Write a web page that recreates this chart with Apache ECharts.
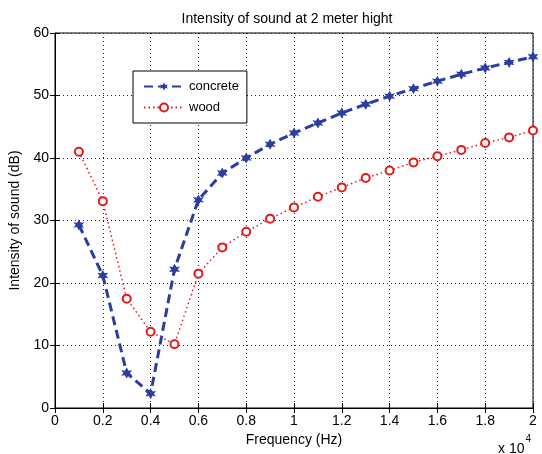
<!DOCTYPE html>
<html>
<head>
    <meta charset="utf-8">
    <script src="https://cdn.jsdelivr.net/npm/echarts@6/dist/echarts.min.js"></script>
</head>
<body style="margin:0;background:#fff;">
    <div id="main" style="width:542px;height:454px;"></div>
    <script type="text/javascript">
        // frequency in units of 10^4 Hz
        var freq = [0.1, 0.2, 0.3, 0.4, 0.5, 0.6, 0.7, 0.8, 0.9, 1.0,
                    1.1, 1.2, 1.3, 1.4, 1.5, 1.6, 1.7, 1.8, 1.9, 2.0];
        var concrete = [29.3, 21.2, 5.6, 2.3, 22.2, 33.3, 37.6, 40.0, 42.2, 44.0,
                        45.6, 47.2, 48.6, 49.9, 51.1, 52.3, 53.4, 54.4, 55.3, 56.2];
        var wood = [41.0, 33.1, 17.5, 12.2, 10.2, 21.5, 25.7, 28.2, 30.3, 32.1,
                    33.8, 35.3, 36.8, 38.0, 39.3, 40.3, 41.3, 42.4, 43.3, 44.4];

        function pairs(xs, ys) {
            var out = [];
            for (var i = 0; i < xs.length; i++) out.push([xs[i], ys[i]]);
            return out;
        }

        var blue = '#2b3d9e';
        var red = '#e01b1f';
        var font = 'Liberation Sans';
        // fat asterisk-like marker
        var star = 'path://M0,-10 L3,-4 L8.7,-5 L5,0 L8.7,5 L3,4 L0,10 L-3,4 L-8.7,5 L-5,0 L-8.7,-5 L-3,-4 Z';

        var myChart = echarts.init(document.getElementById('main'));
        var option = {
            backgroundColor: '#fff',
            animation: false,
            textStyle: {fontFamily: font},
            title: {
                text: 'Intensity of sound at 2 meter hight',
                left: 282, top: 7, textAlign: 'center',
                textStyle: {fontSize: 14, fontWeight: 'normal', color: '#000', fontFamily: font}
            },
            legend: {
                left: 133, top: 71, orient: 'vertical',
                data: ['concrete', 'wood'],
                backgroundColor: '#fff',
                borderColor: '#000', borderWidth: 1,
                padding: [9, 8, 9, 10],
                itemGap: 8, itemWidth: 40, itemHeight: 10,
                textStyle: {fontSize: 13, color: '#000', fontFamily: font}
            },
            grid: {left: 55, right: 9, top: 33, bottom: 46, show: true, borderColor: '#000', borderWidth: 1},
            xAxis: [{
                type: 'value', min: 0, max: 2, interval: 0.2,
                name: 'Frequency (Hz)', nameLocation: 'middle', nameGap: 25,
                nameTextStyle: {fontSize: 14, color: '#000', fontFamily: font},
                axisLine: {lineStyle: {color: '#000'}},
                axisTick: {inside: true, length: 5, lineStyle: {color: '#000'}},
                axisLabel: {color: '#000', fontSize: 14, margin: 6,
                    formatter: function (v) { return String(Math.round(v * 10) / 10); }},
                splitLine: {show: true, lineStyle: {color: '#222', type: [1, 3], width: 1}}
            }, {
                type: 'value', min: 0, max: 2, interval: 0.2, position: 'top',
                axisLine: {show: false},
                axisTick: {inside: true, length: 5, lineStyle: {color: '#000'}},
                axisLabel: {show: false}, splitLine: {show: false}
            }],
            yAxis: [{
                type: 'value', min: 0, max: 60, interval: 10,
                name: 'Intensity of sound (dB)', nameLocation: 'middle', nameGap: 27,
                nameTextStyle: {fontSize: 14, color: '#000', fontFamily: font},
                axisLine: {show: true, lineStyle: {color: '#000'}},
                axisTick: {show: true, inside: true, length: 5, lineStyle: {color: '#000'}},
                axisLabel: {color: '#000', fontSize: 14, margin: 6},
                splitLine: {show: true, lineStyle: {color: '#222', type: [1, 3], width: 1}}
            }, {
                type: 'value', min: 0, max: 60, interval: 10, position: 'right',
                axisLine: {show: false},
                axisTick: {show: true, inside: true, length: 5, lineStyle: {color: '#000'}},
                axisLabel: {show: false}, splitLine: {show: false}
            }],
            graphic: [{
                type: 'text', left: 498, top: 434,
                style: {
                    text: '{b|x 10}{s|4}',
                    rich: {
                        b: {fontSize: 14, fill: '#000', fontFamily: font, verticalAlign: 'bottom'},
                        s: {fontSize: 10, fill: '#000', fontFamily: font, verticalAlign: 'top', padding: [0, 0, 12, 1]}
                    }
                }
            }],
            series: [{
                name: 'concrete', type: 'line',
                data: pairs(freq, concrete),
                symbol: star, symbolSize: 11,
                itemStyle: {color: blue},
                lineStyle: {color: blue, width: 3, type: [9, 5]}
            }, {
                name: 'wood', type: 'line',
                data: pairs(freq, wood),
                symbol: 'circle', symbolSize: 8,
                itemStyle: {color: '#fff', borderColor: red, borderWidth: 2},
                lineStyle: {color: red, width: 1.5, type: [1.5, 3]}
            }]
        };
        myChart.setOption(option);
    </script>
</body>
</html>
